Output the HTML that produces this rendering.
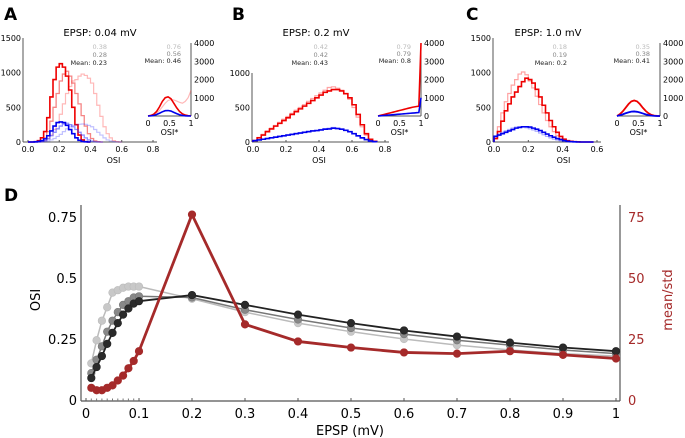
<!DOCTYPE html>
<html><head><meta charset="utf-8"><style>
body{margin:0;background:#fff;}
svg{display:block;font-family:"DejaVu Sans","Liberation Sans",sans-serif;}
</style></head><body>
<svg id="fig" width="685" height="438" viewBox="0 0 685 438" xmlns="http://www.w3.org/2000/svg"></svg>
<script>
// ---------- Panel D data ----------
const dX = [0.01,0.02,0.03,0.04,0.05,0.06,0.07,0.08,0.09,0.1,0.2,0.3,0.4,0.5,0.6,0.7,0.8,0.9,1.0];
const dLight = [0.15,0.245,0.325,0.38,0.44,0.45,0.46,0.465,0.465,0.465,0.415,0.36,0.315,0.28,0.25,0.225,0.205,0.19,0.18];
const dMid = [0.11,0.165,0.22,0.28,0.325,0.36,0.39,0.405,0.42,0.425,0.42,0.37,0.33,0.295,0.27,0.245,0.225,0.205,0.19];
const dDark = [0.09,0.135,0.18,0.23,0.275,0.315,0.35,0.375,0.395,0.405,0.43,0.39,0.35,0.315,0.285,0.26,0.235,0.215,0.2];
const dRatio = [5,4,4,5,6,8,10,13,16,20,76,31,24,21.5,19.5,19,20,18.5,17];
const dXTicks = [0,0.1,0.2,0.3,0.4,0.5,0.6,0.7,0.8,0.9,1];
const dXTickLabels = ["0","0.1","0.2","0.3","0.4","0.5","0.6","0.7","0.8","0.9","1"];
const dYTicks = [0,0.25,0.5,0.75];
const dYTickLabels = ["0","0.25","0.5","0.75"];
const dRTicks = [0,25,50,75];

// ---------- Histogram data ----------
const aDarkRed = [0,0,5,20,60,150,350,650,900,1080,1130,1080,950,750,500,250,100,30,5,0];
const aMidRed = [0,0,0,5,20,60,150,300,500,700,880,980,1020,950,850,700,550,380,230,120,50,15,5,0];
const aLightRed = [0,0,0,0,5,20,50,100,180,280,400,550,700,800,880,900,950,980,960,920,850,700,530,370,220,120,60,20,5,0];
const aDarkBlue = [0,0,2,8,20,45,90,160,230,280,290,280,240,180,120,60,25,8,2,0];
const aMidBlue = [0,0,0,3,8,20,45,90,140,190,230,260,270,250,220,180,140,100,60,30,12,4,1,0];
const aLightBlue = [0,0,0,0,2,6,15,30,50,80,110,150,190,220,240,245,255,260,255,240,220,180,140,100,60,30,15,5,1,0];
const aInRed = [0,30,100,250,500,800,1000,1050,950,700,450,250,120,50,20,10];
const aInLightRed = [0,20,60,150,300,500,700,850,900,880,820,750,700,800,1000,1400];
const aInBlue = [0,10,30,80,150,230,290,300,270,200,130,70,30,10,5,0];

const bDarkRed = [20,60,100,150,190,230,270,310,350,400,440,480,520,560,600,640,680,720,740,760,760,740,700,640,540,400,250,120,40,10];
const bLightRed = [25,65,110,160,200,240,285,330,370,415,460,500,540,590,630,670,710,750,790,800,780,750,700,620,500,360,220,100,30,5];
const bDarkBlue = [20,30,40,50,60,70,80,90,100,110,120,130,140,150,160,165,175,185,190,200,195,185,170,150,120,90,60,35,15,5];
const bLightBlue = [22,32,42,52,64,74,84,94,104,116,126,136,146,156,166,172,182,192,200,210,200,188,172,150,118,86,56,30,12,3];
const bInRed = [0,30,60,90,120,150,180,210,240,270,300,330,360,390,420,450,480,500,520,540,4000];
const bInBlue = [0,10,20,30,40,50,60,70,80,90,100,110,120,130,140,150,160,170,180,190,1000];

const cDarkRed = [50,150,300,450,550,650,720,800,870,920,900,850,760,650,530,420,310,220,140,80,40,20,10,5,2,0,0,0,0];
const cLightRed = [80,220,420,580,700,820,900,980,1010,970,880,780,660,540,420,310,220,150,90,50,25,12,6,3,1,0,0,0,0];
const cDarkBlue = [80,100,120,140,160,180,200,210,220,220,215,200,185,165,140,115,90,70,50,35,20,10,5,2,0,0,0,0,0];
const cLightBlue = [90,115,140,160,180,200,215,220,215,205,190,175,155,130,105,80,60,42,28,18,10,5,2,0,0,0,0,0,0];
const cInRed = [0,100,250,450,650,800,850,800,650,450,280,150,60,20,5,0];
const cInBlue = [0,40,90,150,200,240,250,230,190,140,90,50,20,8,2,0];

const NS = "http://www.w3.org/2000/svg";
const svg = document.getElementById('fig');
function el(tag, attrs, parent){
  const e = document.createElementNS(NS, tag);
  for (const k in attrs) e.setAttribute(k, attrs[k]);
  (parent||svg).appendChild(e);
  return e;
}
function txt(s, attrs, parent){ const t = el('text', attrs, parent); t.textContent = s; return t; }
function linScale(d0,d1,r0,r1){ return v => r0 + (v-d0)/(d1-d0)*(r1-r0); }

function stepHist(values, binW, xs, ys, color, width, opacity, name, parent){
  let d = `M${xs(0)},${ys(0)}`;
  values.forEach((v,i)=>{
    d += ` L${xs(i*binW)},${ys(v)} L${xs((i+1)*binW)},${ys(v)}`;
  });
  d += ` L${xs(values.length*binW)},${ys(0)}`;
  const p = el('path',{d:d,fill:'none',stroke:color,'stroke-width':width,'stroke-opacity':opacity},parent);
  
  
}
function lineSeries(values, xs, ys, color, width, opacity, name, parent){
  const step = 1/(values.length-1);
  const d = values.map((v,i)=>(i?'L':'M')+xs(i*step)+','+ys(v)).join(' ');
  const p = el('path',{d:d,fill:'none',stroke:color,'stroke-width':width,'stroke-opacity':opacity},parent);
  
  
}

function panel(cfg){
  const g = el('g',{});
  
  
  const xs = linScale(0, cfg.xMax, cfg.x0, cfg.x1);
  const ys = linScale(0, cfg.yMax, cfg.yb, cfg.yt);
  txt(cfg.letter,{x:cfg.lx,y:20,'font-size':17,'font-weight':'bold'},g);
  txt(cfg.title,{x:cfg.tx,y:36,'font-size':10,'text-anchor':'middle'},g);
  el('line',{x1:cfg.sx,y1:cfg.yb,x2:cfg.x1+4,y2:cfg.yb,stroke:'#555','stroke-width':1},g);
  el('line',{x1:cfg.sx,y1:cfg.yb,x2:cfg.sx,y2:cfg.yt,stroke:'#555','stroke-width':1},g);
  cfg.yTicks.forEach(t=>{
    txt(String(t),{x:cfg.sx-2,y:ys(t)+3,'font-size':8,'text-anchor':'end'},g);
  });
  cfg.xTicks.forEach(t=>{
    el('line',{x1:xs(t),y1:cfg.yb,x2:xs(t),y2:cfg.yb-2,stroke:'#555'},g);
    txt(t.toFixed(1),{x:xs(t),y:cfg.yb+10,'font-size':8,'text-anchor':'middle'},g);
  });
  txt('OSI',{x:(cfg.x0+cfg.x1)/2+cfg.osiShift,y:cfg.yb+21,'font-size':8,'text-anchor':'middle'},g);
  cfg.hists.forEach(h=>stepHist(h[0], cfg.binW, xs, ys, h[1], h[2], h[3], h[4], g));
  const m = cfg.means;
  txt(m[0],{x:cfg.mx,y:49,'font-size':6.5,fill:'#bbb','text-anchor':'end'},g);
  txt(m[1],{x:cfg.mx,y:57,'font-size':6.5,fill:'#888','text-anchor':'end'},g);
  txt('Mean: '+m[2],{x:cfg.mx,y:65,'font-size':6.5,fill:'#222','text-anchor':'end'},g);
  const ix = linScale(0,1,cfg.ix0,cfg.ix0+43);
  const iy = linScale(0,4000,116,43);
  el('line',{x1:cfg.ix0,y1:116,x2:cfg.ix0+43,y2:116,stroke:'#555'},g);
  el('line',{x1:cfg.ix0+43,y1:116,x2:cfg.ix0+43,y2:43,stroke:'#555'},g);
  [0,1000,2000,3000,4000].forEach(t=>{
    txt(String(t),{x:cfg.ix0+46,y:iy(t)+3,'font-size':8},g);
  });
  [[0,'0'],[0.5,'0.5'],[1,'1']].forEach(t=>{
    txt(t[1],{x:ix(t[0]),y:126,'font-size':8,'text-anchor':'middle'},g);
  });
  txt('OSI*',{x:ix(0.5),y:135,'font-size':8,'text-anchor':'middle'},g);
  cfg.insets.forEach(h=>lineSeries(h[0], ix, iy, h[1], h[2], h[3], h[4], g));
  const im = cfg.imeans;
  txt(im[0],{x:cfg.ix0+33,y:49,'font-size':6.5,fill:'#bbb','text-anchor':'end'},g);
  txt(im[1],{x:cfg.ix0+33,y:56,'font-size':6.5,fill:'#888','text-anchor':'end'},g);
  txt('Mean: '+im[2],{x:cfg.ix0+33,y:63,'font-size':6.5,fill:'#222','text-anchor':'end'},g);
}

panel({letter:'A',lx:4,title:'EPSP: 0.04 mV',tx:100,sx:23,x0:28,x1:153,xMax:0.8,yb:142,yt:38,yMax:1500,
  yTicks:[0,500,1000,1500],xTicks:[0,0.2,0.4,0.6,0.8],binW:0.02,osiShift:23,mx:107,
  means:['0.38','0.28','0.23'],imeans:['0.76','0.56','0.46'],ix0:148,
  hists:[[aLightRed,'#f33',1.2,0.35,'hist-red-light'],[aMidRed,'#e33',1.3,0.6,'hist-red-mid'],[aDarkRed,'#e00',1.6,1,'hist-red-dark'],
         [aLightBlue,'#33f',1.2,0.3,'hist-blue-light'],[aMidBlue,'#33f',1.3,0.55,'hist-blue-mid'],[aDarkBlue,'#00e',1.6,1,'hist-blue-dark']],
  insets:[[aInLightRed,'#f33',1.2,0.35,'inset-red-light'],[aInRed,'#e00',1.6,1,'inset-red'],[aInBlue,'#00e',1.6,1,'inset-blue']]});
panel({letter:'B',lx:232,title:'EPSP: 0.2 mV',tx:316,sx:252,x0:253,x1:385,xMax:0.8,yb:142,yt:73,yMax:1000,
  yTicks:[0,500,1000],xTicks:[0,0.2,0.4,0.6,0.8],binW:0.025,osiShift:0,mx:328,
  means:['0.42','0.42','0.43'],imeans:['0.79','0.79','0.8'],ix0:378,
  hists:[[bLightRed,'#f33',1.2,0.45,'hist-red-light'],[bDarkRed,'#e00',1.6,1,'hist-red-dark'],
         [bLightBlue,'#33f',1.2,0.4,'hist-blue-light'],[bDarkBlue,'#00e',1.6,1,'hist-blue-dark']],
  insets:[[bInRed,'#e00',1.6,1,'inset-red'],[bInBlue,'#00e',1.6,1,'inset-blue']]});
panel({letter:'C',lx:466,title:'EPSP: 1.0 mV',tx:548,sx:493,x0:494,x1:597,xMax:0.6,yb:142,yt:38,yMax:1500,
  yTicks:[0,500,1000,1500],xTicks:[0,0.2,0.4,0.6],binW:0.02,osiShift:18,mx:567,
  means:['0.18','0.19',' 0.2'],imeans:['0.35','0.38','0.41'],ix0:617,
  hists:[[cLightRed,'#f33',1.2,0.45,'hist-red-light'],[cDarkRed,'#e00',1.6,1,'hist-red-dark'],
         [cLightBlue,'#33f',1.2,0.4,'hist-blue-light'],[cDarkBlue,'#00e',1.6,1,'hist-blue-dark']],
  insets:[[cInRed,'#e00',1.8,1,'inset-red'],[cInBlue,'#00e',1.8,1,'inset-blue']]});

// ---------- Panel D ----------
const gD = el('g',{});


const dx = linScale(0,1,86,616);
const dy = linScale(0,0.75,400,217);
const dr = linScale(0,75,400,217);
txt('D',{x:4,y:201,'font-size':17,'font-weight':'bold'},gD);
el('line',{x1:81,y1:401,x2:620,y2:401,stroke:'#555','stroke-width':1.2},gD);
el('line',{x1:81,y1:401,x2:81,y2:205,stroke:'#555','stroke-width':1.2},gD);
el('line',{x1:620,y1:401,x2:620,y2:205,stroke:'#555','stroke-width':1.2},gD);
dXTicks.forEach((t,i)=>{
  el('line',{x1:dx(t),y1:401,x2:dx(t),y2:398,stroke:'#555'},gD);
  txt(dXTickLabels[i],{x:dx(t),y:418,'font-size':13,'text-anchor':'middle'},gD);
});
for(let k=1;k<10;k++){ el('line',{x1:dx(k/100),y1:401,x2:dx(k/100),y2:398.5,stroke:'#777'},gD); }
dYTicks.forEach((t,i)=>{
  txt(dYTickLabels[i],{x:77,y:dy(t)+5,'font-size':13,'text-anchor':'end'},gD);
});
dRTicks.forEach(t=>{
  txt(String(t),{x:628,y:dr(t)+5,'font-size':13,fill:'#a52a2a'},gD);
});
txt('OSI',{x:0,y:0,'font-size':13,'text-anchor':'middle',transform:'translate(40,300) rotate(-90)'},gD);
txt('mean/std',{x:0,y:0,'font-size':13,fill:'#a52a2a','text-anchor':'middle',transform:'translate(672,300) rotate(-90)'},gD);
txt('EPSP (mV)',{x:350,y:435,'font-size':13,'text-anchor':'middle'},gD);

function dSeries(vals, ysc, stroke, fill, lw, name){
  const d = vals.map((v,i)=>(i?'L':'M')+dx(dX[i])+','+ysc(v)).join(' ');
  const p = el('path',{d:d,fill:'none',stroke:stroke,'stroke-width':lw},gD);
  
  
  vals.forEach((v,i)=>{
    const c = el('circle',{cx:dx(dX[i]),cy:ysc(v),r:3.8,fill:fill,stroke:stroke,'stroke-width':0.6},gD);
    
    
  });
}
dSeries(dLight, dy, '#bbb', '#c8c8c8', 1.5, 'osi-light');
dSeries(dMid, dy, '#777', '#888', 1.5, 'osi-mid');
dSeries(dDark, dy, '#222', '#2a2a2a', 1.8, 'osi-dark');
dSeries(dRatio, dr, '#a52a2a', '#a52a2a', 2.8, 'mean-std');
</script>
</body></html>
